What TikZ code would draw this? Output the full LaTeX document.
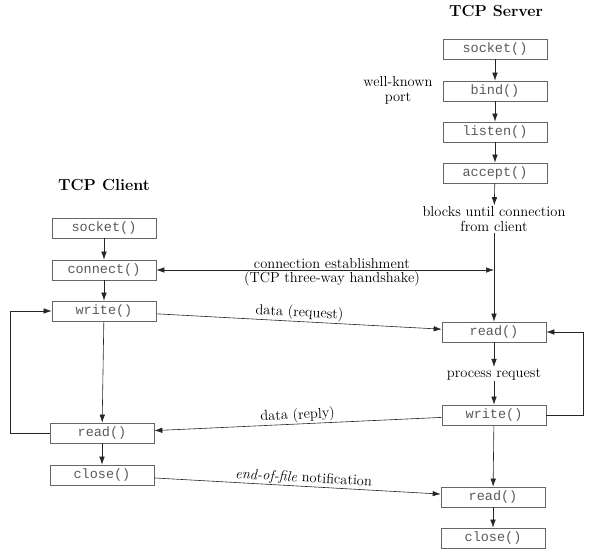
\documentclass[tikz,border=0pt]{standalone}
\usepackage{fontspec}
\setmonofont{Liberation Mono}
\usepackage{tikz}
\usetikzlibrary{arrows.meta}
\tikzstyle{call} = [rectangle, minimum width=104pt, minimum height=20pt, inner sep=0pt, text centered, draw=black!60, line width=0.7pt, text=black!65, font=\fontsize{13.5}{15}\ttfamily]
\tikzstyle{note} = [align=center, font=\fontsize{14.5}{15}\selectfont, inner sep=1pt, text=black]
\tikzstyle{title} = [font=\fontsize{16}{18}\selectfont\bfseries]
\tikzstyle{arrow} = [draw=black!85, line width=0.6pt, ->, >={Latex[length=8pt, width=5.5pt]}]

\begin{document}
\begin{tikzpicture}[x=1pt, y=-1pt]
        \useasboundingbox (0,0) rectangle (589,555);
        % server side
        \node (srvtitle) [title] at (496,11) {TCP Server};
        \node (ssocket) [call] at (495,49) {socket()};
        \node (sbind) [call] at (495,91) {bind()};
        \node (slisten) [call] at (495,132) {listen()};
        \node (saccept) [call] at (495,173) {accept()};
        \node (port) [note] at (398,90) {well-known\\port};
        \node (blocks) [note] at (494,219) {blocks until connection\\from client};
        \node (sread) [call] at (494,332) {read()};
        \node (process) [note] at (494,374) {process request};
        \node (swrite) [call] at (494,415) {write()};
        \node (sreadeof) [call] at (493,497) {read()};
        \node (sclose) [call] at (493,538) {close()};
        \coordinate (handshake) at (494,270);

        % client side
        \node (clititle) [title] at (104,185) {TCP Client};
        \node (csocket) [call] at (104,228) {socket()};
        \node (cconnect) [call] at (104,270) {connect()};
        \node (cwrite) [call] at (104,311) {write()};
        \node (cread) [call] at (102,433) {read()};
        \node (cclose) [call] at (102,475) {close()};

        \draw [arrow] (ssocket) -- (sbind);
        \draw [arrow] (sbind) -- (slisten);
        \draw [arrow] (slisten) -- (saccept);
        \draw [arrow] (saccept) -- (blocks);
        \draw [arrow] (blocks) -- (sread);
        \draw [arrow] (sread) -- (process);
        \draw [arrow] (process) -- (swrite);
        \draw [arrow] (swrite.east) -- ++(37,0) |- (sread);
        \draw [arrow] (swrite) -- (sreadeof);
        \draw [arrow] (sreadeof) -- (sclose);

        \draw [arrow] (csocket) -- (cconnect);
        \draw [arrow] (cconnect) -- (cwrite);
        \draw [arrow] (cwrite) -- (cread);
        \draw [arrow] (cread.west) -- ++(-39,0) |- (cwrite);
        \draw [arrow] (cread) -- (cclose);

        % between the two
        \draw [arrow, <->] (cconnect) -- node [note, above, pos=0.52] {connection establishment} node [note, below, pos=0.52] {(TCP three-way handshake)} (handshake);
        \draw [arrow] (cwrite) -- node [note, above, sloped, pos=0.5] {data (request)} (sread);
        \draw [arrow] (swrite) -- node [note, above, sloped, pos=0.5] {data (reply)} (cread);
        \draw [arrow] (cclose) -- node [note, above, sloped, pos=0.52] {\textit{end-of-file} notification} (sreadeof);
    \end{tikzpicture}
\end{document}
